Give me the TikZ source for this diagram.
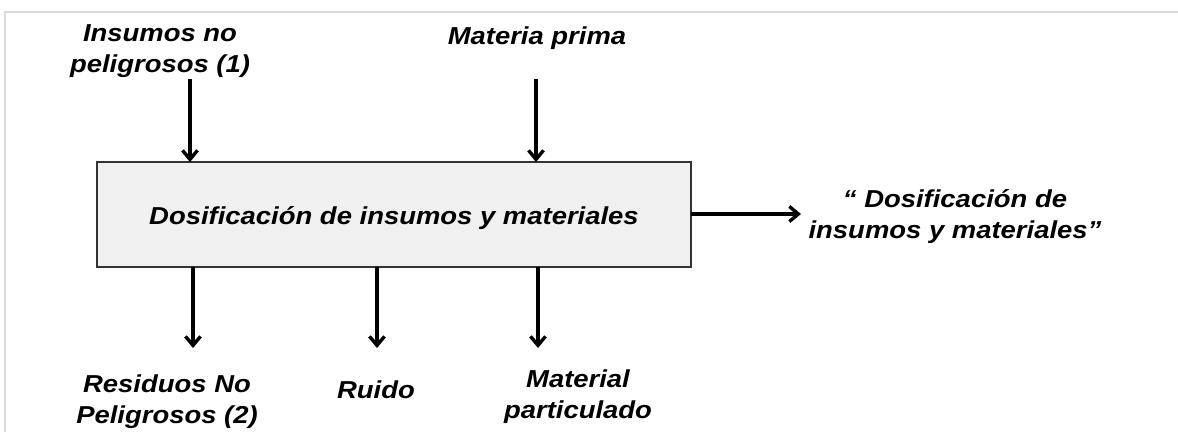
\documentclass[tikz,border=0pt]{standalone}
\usepackage{fontspec}
\setmainfont{Liberation Sans}[FakeStretch=1.12]
\usetikzlibrary{arrows.meta}
\begin{document}
\begin{tikzpicture}[x=1pt,y=-1pt,
  lbl/.style={font=\fontsize{24.5}{31}\selectfont\bfseries\itshape, align=center, inner sep=0pt, anchor=base},
  proc/.style={draw=black!80, line width=2.4pt, fill=black!6},
  flow/.style={line width=3.4pt, -{Straight Barb[length=9pt,width=15pt,line width=3.4pt]}},
  frame/.style={draw=black!15, line width=2.5pt}]
\useasboundingbox (0,0) rectangle (1178,432);
\draw[frame] (5,432) -- (5,12) -- (1178,12);
\draw[proc] (97,162) rectangle (691,267);
\node[lbl] (main) at (394,224) {Dosificación de insumos y materiales};
\node[lbl] (ins) at (160,72) {Insumos no\\peligrosos (1)};
\node[lbl] (mp) at (537,44) {Materia prima};
\node[lbl] (out) at (955,238) {“ Dosificación de\\insumos y materiales”};
\node[lbl] (res) at (167,423) {Residuos No\\Peligrosos (2)};
\node[lbl] (rui) at (376,398) {Ruido};
\node[lbl] (mat) at (578,418) {Material\\particulado};
\coordinate (a1s) at (190,79); \coordinate (a1e) at (190,162);
\coordinate (a2s) at (536,79); \coordinate (a2e) at (536,162);
\coordinate (b1s) at (193,267); \coordinate (b1e) at (193,348);
\coordinate (b2s) at (377,267); \coordinate (b2e) at (377,348);
\coordinate (b3s) at (538,267); \coordinate (b3e) at (538,348);
\coordinate (rs) at (691,214); \coordinate (re) at (801,214);
\draw[flow] (a1s) -- (a1e);
\draw[flow] (a2s) -- (a2e);
\draw[flow] (b1s) -- (b1e);
\draw[flow] (b2s) -- (b2e);
\draw[flow] (b3s) -- (b3e);
\draw[flow] (rs) -- (re);
\end{tikzpicture}
\end{document}
